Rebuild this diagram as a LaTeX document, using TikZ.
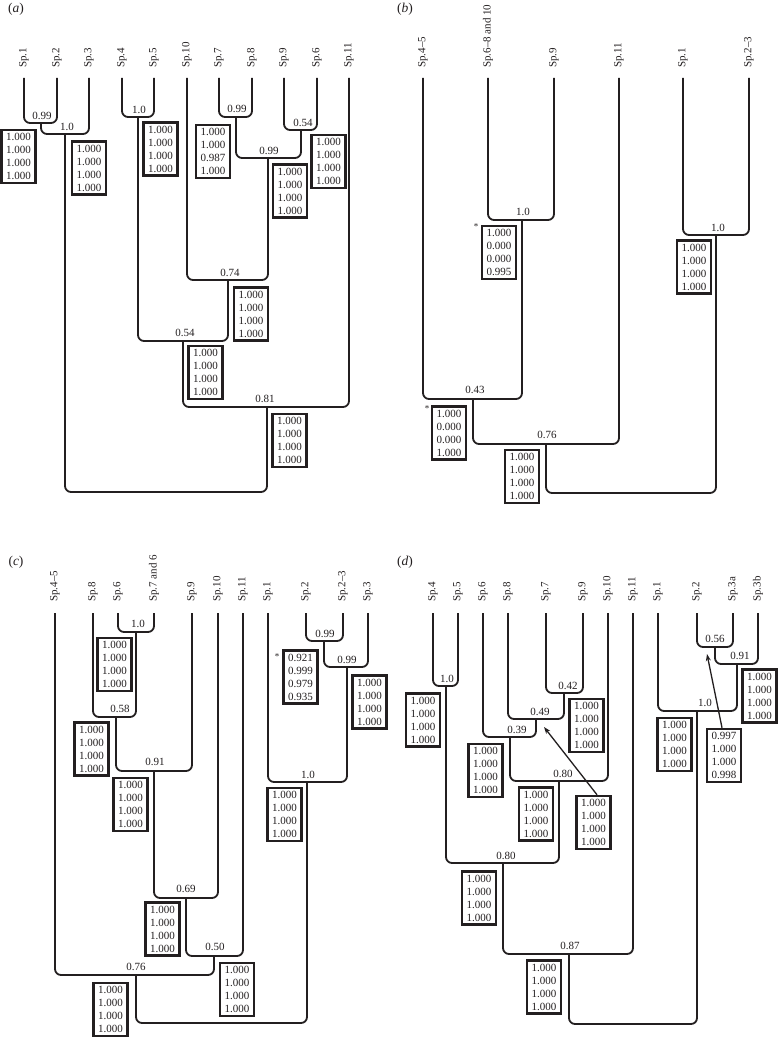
\documentclass[tikz,border=0pt]{standalone}
\usepackage{fontspec}
\setmainfont{Liberation Serif}
\usetikzlibrary{arrows.meta}
\newcommand{\fsz}{\fontsize{11}{13}\selectfont}
\newcommand{\plfsz}{\fontsize{13.5}{15}\selectfont}
\newcommand{\stfsz}{\fontsize{9}{9}\selectfont}
\definecolor{ink}{HTML}{231F20}
\tikzset{
  br/.style={draw=ink, line width=1.8pt, rounded corners=6pt},
  bx/.style={draw=ink, line width=2.5pt, minimum width=34pt, minimum height=53pt, inner sep=0pt, align=center, font=\fsz, fill=white, text=ink},
  sp/.style={rotate=90, anchor=west, inner sep=0pt, font=\fsz, text=ink},
  sv/.style={inner sep=0pt, font=\fsz, text=ink},
  pl/.style={inner sep=0pt, font=\plfsz, text=ink},
  st/.style={inner sep=0pt, font=\stfsz, text=ink},
  arr/.style={draw=ink, line width=1.3pt, -{Stealth[length=7pt,width=5pt]}}
}
\begin{document}
\begin{tikzpicture}[x=1pt,y=-1pt]
\useasboundingbox (0,0) rectangle (778,1038);
\fill[white] (0,0) rectangle (778,1038);

% ---------------- panel labels
\node[pl] (pa) at (16,9) {(\textit{a})};
\node[pl] (pb) at (405,9) {(\textit{b})};
\node[pl] (pc) at (16,562) {(\textit{c})};
\node[pl] (pd) at (405,562) {(\textit{d})};

% ---------------- leaves
\foreach \n/\x/\t in {a1/24/Sp.1, a2/57/Sp.2, a3/89/Sp.3, a4/122/Sp.4, a5/154/Sp.5, a10/187/Sp.10, a7/219/Sp.7, a8/252/Sp.8, a9/284/Sp.9, a6/317/Sp.6, a11/349/Sp.11,
  b45/423/Sp.4–5, b68/488/Sp.6–8 and 10, b9/554/Sp.9, b11/619/Sp.11, b1/683/Sp.1, b23/749/Sp.2–3}
{ \node[sp] (s\n) at (\x,68) {\t}; \coordinate (t\n) at (\x,78); }
\foreach \n/\x/\t in {c45/55/Sp.4–5, c8/93/Sp.8, c6/118/Sp.6, c76/154/Sp.7 and 6, c9/192/Sp.9, c10/218/Sp.10, c11/243/Sp.11, c1/268/Sp.1, c2/306/Sp.2, c23/343/Sp.2–3, c3/368/Sp.3,
  d4/433/Sp.4, d5/458/Sp.5, d6/483/Sp.6, d8/508/Sp.8, d7/546/Sp.7, d9/583/Sp.9, d10/608/Sp.10, d11/633/Sp.11, d1/658/Sp.1, d2/697/Sp.2, d3a/733/Sp.3a, d3b/758/Sp.3b}
{ \node[sp] (s\n) at (\x,602) {\t}; \coordinate (t\n) at (\x,613); }

% ---------------- panel (a)
\coordinate (a12) at (41,123);
\coordinate (a123) at (65,134);
\coordinate (a45) at (138,117);
\coordinate (a78) at (236,117);
\coordinate (a96) at (301,130);
\coordinate (a7896) at (268,158);
\coordinate (a074) at (228,280);
\coordinate (a054) at (183,341);
\coordinate (a081) at (267,407);
\coordinate (aroot) at (166,492);
\draw[br] (ta1) |- (a12) -| (ta2);
\draw[br] (a12) |- (a123) -| (ta3);
\draw[br] (ta4) |- (a45) -| (ta5);
\draw[br] (ta7) |- (a78) -| (ta8);
\draw[br] (ta9) |- (a96) -| (ta6);
\draw[br] (a78) |- (a7896) -| (a96);
\draw[br] (ta10) |- (a074) -| (a7896);
\draw[br] (a45) |- (a054) -| (a074);
\draw[br] (a054) |- (a081) -| (ta11);
\draw[br] (a123) |- (aroot) -| (a081);
\node[sv] (la12) at (42,116) {0.99};
\node[sv] (la123) at (67,127) {1.0};
\node[sv] (la45) at (139,110) {1.0};
\node[sv] (la78) at (237,109) {0.99};
\node[sv] (la96) at (303,123) {0.54};
\node[sv] (la7896) at (269,151) {0.99};
\node[sv] (la074) at (230,273) {0.74};
\node[sv] (la054) at (185,333) {0.54};
\node[sv] (la081) at (265,399) {0.81};
\node[bx] (ba12) at (18.5,156.5) {1.000\\1.000\\1.000\\1.000};
\node[bx] (ba123) at (89,168) {1.000\\1.000\\1.000\\1.000};
\node[bx] (ba45) at (160.5,149) {1.000\\1.000\\1.000\\1.000};
\node[bx] (ba78) at (213,151.5) {1.000\\1.000\\0.987\\1.000};
\node[bx] (ba96) at (328.5,161.5) {1.000\\1.000\\1.000\\1.000};
\node[bx] (ba7896) at (290,191) {1.000\\1.000\\1.000\\1.000};
\node[bx] (ba074) at (251,314) {1.000\\1.000\\1.000\\1.000};
\node[bx] (ba054) at (205.5,372.5) {1.000\\1.000\\1.000\\1.000};
\node[bx] (ba081) at (289.5,440.5) {1.000\\1.000\\1.000\\1.000};

% ---------------- panel (b)
\coordinate (bn1) at (522,220);
\coordinate (b043) at (473,399);
\coordinate (b076) at (546,444);
\coordinate (b123) at (716,235);
\coordinate (broot) at (631,493);
\draw[br] (tb68) |- (bn1) -| (tb9);
\draw[br] (tb45) |- (b043) -| (bn1);
\draw[br] (b043) |- (b076) -| (tb11);
\draw[br] (tb1) |- (b123) -| (tb23);
\draw[br] (b076) |- (broot) -| (b123);
\node[sv] (lbn1) at (523,212) {1.0};
\node[sv] (lb043) at (475,390) {0.43};
\node[sv] (lb076) at (547,435) {0.76};
\node[sv] (lb123) at (718,228) {1.0};
\node[bx] (bbn1) at (499,252.5) {1.000\\0.000\\0.000\\0.995};
\node[st] (sbn1) at (476,227) {*};
\node[bx] (bb043) at (449,433) {1.000\\0.000\\0.000\\1.000};
\node[st] (sb043) at (427,409) {*};
\node[bx] (bb123) at (694,267) {1.000\\1.000\\1.000\\1.000};
\node[bx] (bb076) at (522,476.5) {1.000\\1.000\\1.000\\1.000};

% ---------------- panel (c)
\coordinate (cn1) at (136,632);
\coordinate (c058) at (116,717);
\coordinate (c091) at (154,771);
\coordinate (c069) at (186,898);
\coordinate (c050) at (214,956);
\coordinate (c076) at (136,975);
\coordinate (c099a) at (324,641);
\coordinate (c099b) at (347,667);
\coordinate (cn10) at (307,782);
\coordinate (croot) at (220,1023);
\draw[br] (tc6) |- (cn1) -| (tc76);
\draw[br] (tc8) |- (c058) -| (cn1);
\draw[br] (c058) |- (c091) -| (tc9);
\draw[br] (c091) |- (c069) -| (tc10);
\draw[br] (c069) |- (c050) -| (tc11);
\draw[br] (tc45) |- (c076) -| (c050);
\draw[br] (tc2) |- (c099a) -| (tc23);
\draw[br] (c099a) |- (c099b) -| (tc3);
\draw[br] (tc1) |- (cn10) -| (c099b);
\draw[br] (c076) |- (croot) -| (cn10);
\node[sv] (lcn1) at (138,624) {1.0};
\node[sv] (lc058) at (120,709) {0.58};
\node[sv] (lc091) at (155,762) {0.91};
\node[sv] (lc069) at (186,889) {0.69};
\node[sv] (lc050) at (215,947) {0.50};
\node[sv] (lc076) at (136,967) {0.76};
\node[sv] (lc099a) at (325,634) {0.99};
\node[sv] (lc099b) at (347,660) {0.99};
\node[sv] (lcn10) at (308,775) {1.0};
\node[bx] (bcn1) at (114.5,664.5) {1.000\\1.000\\1.000\\1.000};
\node[bx] (bc058) at (91.5,749) {1.000\\1.000\\1.000\\1.000};
\node[bx] (bc091) at (130.5,804.5) {1.000\\1.000\\1.000\\1.000};
\node[bx] (bc069) at (162.5,929) {1.000\\1.000\\1.000\\1.000};
\node[bx] (bc050) at (237,989.5) {1.000\\1.000\\1.000\\1.000};
\node[bx] (bc076) at (110.5,1009.5) {1.000\\1.000\\1.000\\1.000};
\node[bx] (bc099a) at (300.5,677) {0.921\\0.999\\0.979\\0.935};
\node[st] (sc099a) at (277,657) {*};
\node[bx] (bc099b) at (369.5,702) {1.000\\1.000\\1.000\\1.000};
\node[bx] (bcn10) at (284.5,814.5) {1.000\\1.000\\1.000\\1.000};

% ---------------- panel (d)
\coordinate (d45) at (446,686);
\coordinate (d042) at (564,693);
\coordinate (d049) at (536,719);
\coordinate (d039) at (510,737);
\coordinate (d080a) at (559,781);
\coordinate (d080b) at (503,863);
\coordinate (d087) at (569,954);
\coordinate (d056) at (715,647);
\coordinate (d091) at (737,664);
\coordinate (dn10) at (697,711);
\coordinate (droot) at (633,1024);
\draw[br] (td4) |- (d45) -| (td5);
\draw[br] (td7) |- (d042) -| (td9);
\draw[br] (td8) |- (d049) -| (d042);
\draw[br] (td6) |- (d039) -| (d049);
\draw[br] (d039) |- (d080a) -| (td10);
\draw[br] (d45) |- (d080b) -| (d080a);
\draw[br] (d080b) |- (d087) -| (td11);
\draw[br] (td2) |- (d056) -| (td3a);
\draw[br] (d056) |- (d091) -| (td3b);
\draw[br] (td1) |- (dn10) -| (d091);
\draw[br] (d087) |- (droot) -| (dn10);
\node[sv] (ld45) at (447,679) {1.0};
\node[sv] (ld042) at (568,686) {0.42};
\node[sv] (ld049) at (540,712) {0.49};
\node[sv] (ld039) at (517,730) {0.39};
\node[sv] (ld080a) at (563,774) {0.80};
\node[sv] (ld080b) at (506,856) {0.80};
\node[sv] (ld087) at (570,946) {0.87};
\node[sv] (ld056) at (715,639) {0.56};
\node[sv] (ld091) at (740,656) {0.91};
\node[sv] (ldn10) at (705,703) {1.0};
\node[bx] (bd45) at (423,720) {1.000\\1.000\\1.000\\1.000};
\node[bx] (bd042) at (586.5,725.5) {1.000\\1.000\\1.000\\1.000};
\node[bx] (bd039) at (485.5,770.5) {1.000\\1.000\\1.000\\1.000};
\node[bx] (bd080a) at (536,814) {1.000\\1.000\\1.000\\1.000};
\node[bx] (bd049) at (593.5,822.5) {1.000\\1.000\\1.000\\1.000};
\node[bx] (bd080b) at (479,898) {1.000\\1.000\\1.000\\1.000};
\node[bx] (bd087) at (544,987) {1.000\\1.000\\1.000\\1.000};
\node[bx] (bd091) at (759.5,696) {1.000\\1.000\\1.000\\1.000};
\node[bx] (bdn10) at (674.5,744.5) {1.000\\1.000\\1.000\\1.000};
\node[bx] (bd056) at (724,755.5) {0.997\\1.000\\1.000\\0.998};
\coordinate (pd049) at (544,727);
\coordinate (pd056) at (707,654);
\draw[arr] ([xshift=3.5pt]bd049.north) -- (pd049);
\draw[arr] ([xshift=-2pt]bd056.north) -- (pd056);
\end{tikzpicture}
\end{document}
